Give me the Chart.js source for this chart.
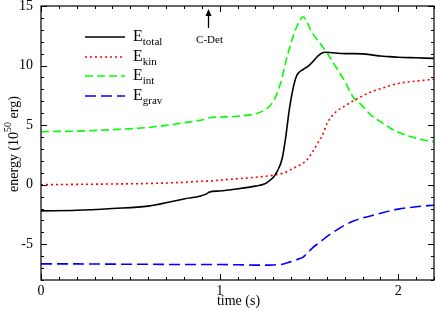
<!DOCTYPE html>
<html>
<head>
<meta charset="utf-8">
<script src="https://cdn.jsdelivr.net/npm/chart.js@4"></script>
<style>
  body { margin: 0; background: #fff; }
  canvas { display: block; }
</style>
</head>
<body>
<canvas id="chart" width="436" height="311"></canvas>
<script>
const times = [0, 0.2, 0.4, 0.6, 0.8, 0.93, 0.94, 1.0, 1.1, 1.2, 1.25, 1.28, 1.3, 1.32, 1.35, 1.37, 1.39, 1.41, 1.43, 1.45, 1.465, 1.48, 1.5, 1.52, 1.55, 1.58, 1.6, 1.65, 1.7, 1.75, 1.8, 1.85, 1.9, 1.95, 2.0, 2.1, 2.2];
const eTotal = [-2.2, -2.15, -2.0, -1.8, -1.2, -0.75, -0.63, -0.53, -0.35, -0.12, 0.05, 0.35, 0.6, 1.05, 2.2, 4.0, 6.3, 8.0, 9.1, 9.5, 9.65, 9.8, 10.0, 10.3, 10.8, 11.1, 11.12, 11.05, 11.0, 11.0, 10.98, 10.9, 10.8, 10.75, 10.7, 10.65, 10.6];
const eKin = [0, 0.03, 0.06, 0.1, 0.2, 0.3, 0.3, 0.38, 0.5, 0.62, 0.7, 0.75, 0.8, 0.85, 0.95, 1.05, 1.2, 1.35, 1.5, 1.65, 1.8, 1.95, 2.3, 2.75, 3.5, 4.3, 5.1, 6.1, 6.6, 7.05, 7.45, 7.8, 8.05, 8.3, 8.5, 8.7, 8.85];
const eInt = [4.45, 4.5, 4.62, 4.8, 5.2, 5.55, 5.62, 5.68, 5.75, 5.95, 6.25, 6.6, 7.0, 7.6, 9.0, 10.3, 11.4, 12.4, 13.2, 13.8, 14.1, 13.9, 13.3, 12.7, 12.1, 11.5, 11.1, 9.9, 8.7, 7.3, 6.6, 5.8, 5.3, 4.8, 4.4, 3.9, 3.6];
const eGrav = [-6.65, -6.65, -6.67, -6.68, -6.7, -6.7, -6.7, -6.7, -6.72, -6.75, -6.75, -6.75, -6.74, -6.72, -6.68, -6.6, -6.5, -6.4, -6.3, -6.2, -6.1, -5.9, -5.6, -5.3, -4.95, -4.6, -4.35, -3.85, -3.4, -3.05, -2.8, -2.6, -2.4, -2.2, -2.05, -1.85, -1.72];

const xTicks = [0, 1, 2];
const yTicks = [-5, 0, 5, 10, 15];
const legendLabels = [['E', 'total'], ['E', 'kin'], ['E', 'int'], ['E', 'grav']];
const markerTime = 0.935;
const markerLabel = 'C-Det';

const serif = '"Liberation Serif", "DejaVu Serif", serif';
const colors = ['#000000', '#ff0000', '#00ff00', '#0000ff'];
const dashes = [[], [2, 3], [8, 4], [11, 5]];
const series = [eTotal, eKin, eInt, eGrav];

const datasets = series.map((vals, i) => ({
  label: legendLabels[i].join(''),
  data: vals.map((v, j) => ({ x: times[j], y: v })),
  borderColor: colors[i],
  borderWidth: 1.6,
  borderDash: dashes[i],
  pointRadius: 0,
  cubicInterpolationMode: 'monotone',
  fill: false,
}));

const decorations = {
  id: 'decorations',
  afterDraw(chart) {
    const { ctx, chartArea: a, scales } = chart;
    const xs = scales.x, ys = scales.y;
    ctx.save();
    ctx.strokeStyle = '#000';
    ctx.lineWidth = 1.2;
    ctx.setLineDash([]);
    ctx.strokeRect(a.left, a.top, a.right - a.left, a.bottom - a.top);

    ctx.lineWidth = 1;
    ctx.beginPath();
    for (let k = 0; k <= 22; k++) {
      const px = Math.round(xs.getPixelForValue(k / 10)) + 0.5;
      const len = k % 10 === 0 ? 6 : 3;
      ctx.moveTo(px, a.bottom); ctx.lineTo(px, a.bottom - len);
      ctx.moveTo(px, a.top); ctx.lineTo(px, a.top + len);
    }
    for (let v = -8; v <= 15; v++) {
      const py = Math.round(ys.getPixelForValue(v)) + 0.5;
      const len = v % 5 === 0 ? 6 : 3;
      ctx.moveTo(a.left, py); ctx.lineTo(a.left + len, py);
      ctx.moveTo(a.right, py); ctx.lineTo(a.right - len, py);
    }
    ctx.stroke();

    // axis titles
    ctx.fillStyle = '#000';
    ctx.font = '14px ' + serif;
    ctx.textAlign = 'center';
    ctx.textBaseline = 'alphabetic';
    ctx.fillText('time (s)', (a.left + a.right) / 2 + 1, 305);

    ctx.save();
    ctx.translate(18, 144);
    ctx.rotate(-Math.PI / 2);
    ctx.textAlign = 'left';
    const p1 = 'energy (10', sup = '50', p2 = ' erg)';
    ctx.font = '14px ' + serif;
    const w1 = ctx.measureText(p1).width;
    const w3 = ctx.measureText(p2).width;
    ctx.font = '10px ' + serif;
    const w2 = ctx.measureText(sup).width;
    let x0 = -(w1 + w2 + w3) / 2;
    ctx.font = '14px ' + serif;
    ctx.fillText(p1, x0, 0);
    ctx.font = '10px ' + serif;
    ctx.fillText(sup, x0 + w1, -7);
    ctx.font = '14px ' + serif;
    ctx.fillText(p2, x0 + w1 + w2, 0);
    ctx.restore();

    // legend
    const rowsY = [37, 57, 76, 96];
    legendLabels.forEach((lab, i) => {
      const y = rowsY[i];
      ctx.strokeStyle = colors[i];
      ctx.lineWidth = 1.6;
      ctx.setLineDash(dashes[i]);
      ctx.beginPath();
      ctx.moveTo(85, y); ctx.lineTo(125, y);
      ctx.stroke();
      ctx.setLineDash([]);
      ctx.fillStyle = '#000';
      ctx.textAlign = 'left';
      ctx.font = '16px ' + serif;
      ctx.fillText(lab[0], 133, y + 4);
      const we = ctx.measureText(lab[0]).width;
      ctx.font = '11px ' + serif;
      ctx.fillText(lab[1], 133 + we, y + 8);
    });

    // C-Det marker
    const mx = Math.round(xs.getPixelForValue(markerTime)) + 0.5;
    ctx.strokeStyle = '#000';
    ctx.fillStyle = '#000';
    ctx.lineWidth = 1.3;
    ctx.beginPath();
    ctx.moveTo(mx, 28); ctx.lineTo(mx, 12);
    ctx.stroke();
    ctx.beginPath();
    ctx.moveTo(mx, 9); ctx.lineTo(mx - 3, 16); ctx.lineTo(mx + 3, 16);
    ctx.closePath();
    ctx.fill();
    ctx.font = '11px ' + serif;
    ctx.textAlign = 'center';
    ctx.fillText(markerLabel, mx + 1, 43);
    ctx.restore();
  }
};

new Chart(document.getElementById('chart'), {
  type: 'line',
  data: { datasets },
  options: {
    responsive: false,
    animation: false,
    devicePixelRatio: 1,
    layout: { padding: { top: 6, right: 2, left: 0, bottom: 0 } },
    plugins: { legend: { display: false }, tooltip: { enabled: false } },
    scales: {
      x: {
        type: 'linear',
        min: 0,
        max: 2.2,
        afterBuildTicks: (s) => { s.ticks = xTicks.map(v => ({ value: v })); },
        afterFit: (s) => { s.height = 31; s.paddingLeft = 0; s.paddingRight = 0; },
        grid: { display: false, drawTicks: false },
        border: { display: false },
        ticks: { color: '#000', font: { family: serif, size: 14 }, padding: 3, maxRotation: 0 },
      },
      y: {
        type: 'linear',
        min: -8,
        max: 15,
        afterBuildTicks: (s) => { s.ticks = yTicks.map(v => ({ value: v })); },
        afterFit: (s) => { s.width = 41; s.paddingTop = 0; s.paddingBottom = 0; },
        grid: { display: false, drawTicks: false },
        border: { display: false },
        ticks: { color: '#000', font: { family: serif, size: 14 }, padding: 8 },
      },
    },
  },
  plugins: [decorations],
});
</script>
</body>
</html>
